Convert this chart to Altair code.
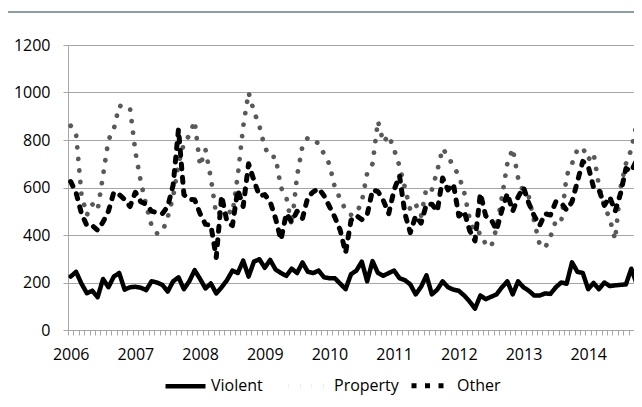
import json
import altair as alt
import pandas as pd

years = ["2006", "2007", "2008", "2009", "2010", "2011", "2012", "2013", "2014"]
series_names = ["Violent", "Property", "Other"]

violent = [225, 245, 195, 155, 165, 138, 215, 180, 225, 240, 170, 180,
           182, 178, 168, 205, 200, 190, 162, 205, 222, 172, 205, 252,
           215, 175, 196, 154, 180, 210, 250, 240, 292, 225, 288, 298,
           262, 295, 255, 240, 228, 258, 240, 284, 245, 240, 250, 222,
           218, 218, 195, 172, 235, 250, 288, 205, 290, 240, 228, 240,
           250, 218, 210, 192, 150, 182, 230, 150, 170, 205, 180, 170,
           165, 145, 120, 90, 145, 130, 140, 150, 180, 205, 150, 205,
           180, 165, 145, 145, 154, 152, 180, 200, 195, 285, 245, 240,
           172, 198, 172, 200, 185, 188, 190, 192, 258, 194]

property_ = [860, 825, 570, 484, 530, 505, 650, 800, 846, 945, 937, 935,
             750, 625, 525, 440, 407, 412, 475, 560, 700, 785, 820, 880,
             690, 760, 640, 484, 500, 505, 490, 650, 856, 1000, 920, 860,
             770, 728, 730, 600, 560, 440, 650, 775, 810, 800, 785, 741,
             698, 600, 552, 505, 485, 490, 540, 660, 700, 880, 790, 820,
             760, 690, 600, 505, 530, 480, 600, 590, 670, 765, 730, 690,
             650, 580, 470, 405, 410, 360, 350, 430, 560, 700, 765, 640,
             580, 560, 456, 360, 345, 393, 460, 455, 650, 700, 760, 768,
             716, 745, 606, 520, 470, 380, 600, 700, 760, 870]

other = [625, 578, 490, 440, 440, 420, 455, 500, 580, 570, 550, 520,
         580, 540, 530, 500, 495, 490, 520, 610, 845, 570, 550, 548,
         490, 445, 442, 305, 565, 455, 440, 590, 520, 700, 630, 565,
         570, 540, 470, 380, 490, 455, 500, 470, 560, 582, 596, 565,
         520, 475, 420, 325, 462, 482, 465, 485, 590, 583, 545, 490,
         590, 650, 490, 410, 480, 450, 530, 530, 500, 640, 590, 615,
         480, 500, 420, 375, 575, 480, 465, 420, 505, 575, 500, 560,
         600, 533, 480, 440, 490, 484, 540, 535, 505, 540, 625, 710,
         690, 600, 590, 525, 560, 500, 575, 680, 668, 716]

y_ticks = [0, 200, 400, 600, 800, 1000, 1200]

rows = []
for name, vals in zip(series_names, [violent, property_, other]):
    for i, v in enumerate(vals):
        rows.append({"t": i, "series": name, "value": v})
df = pd.DataFrame(rows)

FONT = "Open Sans"
GRID = "#a6a6a6"
n_visible = 105  # months shown inside the plot area

px_per_month = 566 / n_visible

x_enc = alt.X(
    "t:Q",
    scale=alt.Scale(domain=[-0.5, n_visible - 0.5], nice=False, zero=False),
    axis=alt.Axis(
        values=list(range(0, n_visible)),
        labelExpr="datum.value % 12 == 0 ? " + json.dumps(years) + "[datum.value / 12] : ''",
        tickOffset=-px_per_month / 2,
        labelOffset=px_per_month / 2,
        labelOverlap=False,
        labelFlush=False,
        labelBound=False,
        grid=False,
        title=None,
        tickSize=5,
        tickColor=GRID,
        domainColor=GRID,
        labelPadding=11,
        labelFont=FONT,
        labelFontSize=16,
        labelColor="#000000",
    ),
)
y_enc = alt.Y(
    "value:Q",
    scale=alt.Scale(domain=[0, 1200], nice=False),
    axis=alt.Axis(
        values=y_ticks,
        format="d",
        grid=True,
        gridColor=GRID,
        gridWidth=1,
        tickSize=5,
        tickColor=GRID,
        domainColor=GRID,
        labelPadding=13,
        labelFont=FONT,
        labelFontSize=16,
        labelColor="#000000",
        title=None,
    ),
)

color_enc = alt.Color(
    "series:N",
    scale=alt.Scale(domain=series_names, range=["#000000", "#595959", "#000000"]),
    legend=alt.Legend(
        title=None,
        orient="none",
        legendX=95,
        legendY=318,
        direction="horizontal",
        symbolType="stroke",
        symbolSize=1600,
        labelOffset=3,
        columnPadding=2,
        gridAlign="all",
        labelFont=FONT,
        labelFontSize=16,
        labelColor="#000000",
    ),
)
dash_enc = alt.StrokeDash(
    "series:N",
    scale=alt.Scale(domain=series_names, range=[[1, 0], [0.1, 11.5], [5, 8.5]]),
    legend=None,
)
width_enc = alt.StrokeWidth(
    "series:N",
    scale=alt.Scale(domain=series_names, range=[4.5, 5, 3.5]),
    legend=None,
)

base = alt.Chart(df).encode(x=x_enc, y=y_enc, color=color_enc,
                            strokeDash=dash_enc, strokeWidth=width_enc)

lines = base.mark_line(strokeCap="round", strokeJoin="round", clip=True)

top_line = alt.Chart(pd.DataFrame({"a": [0]})).mark_rule(
    color="#8c9cab", strokeWidth=2
).encode(x=alt.value(-60), x2=alt.value(580), y=alt.value(-33))

chart = alt.layer(top_line, lines).properties(
    width=566,
    height=285,
    autosize=alt.AutoSizeParams(type="none"),
    padding={"left": 60, "top": 37, "right": 0, "bottom": 66},
).configure_view(stroke=None)

chart.save("out.html", embed_options={"renderer": "svg", "actions": False})
